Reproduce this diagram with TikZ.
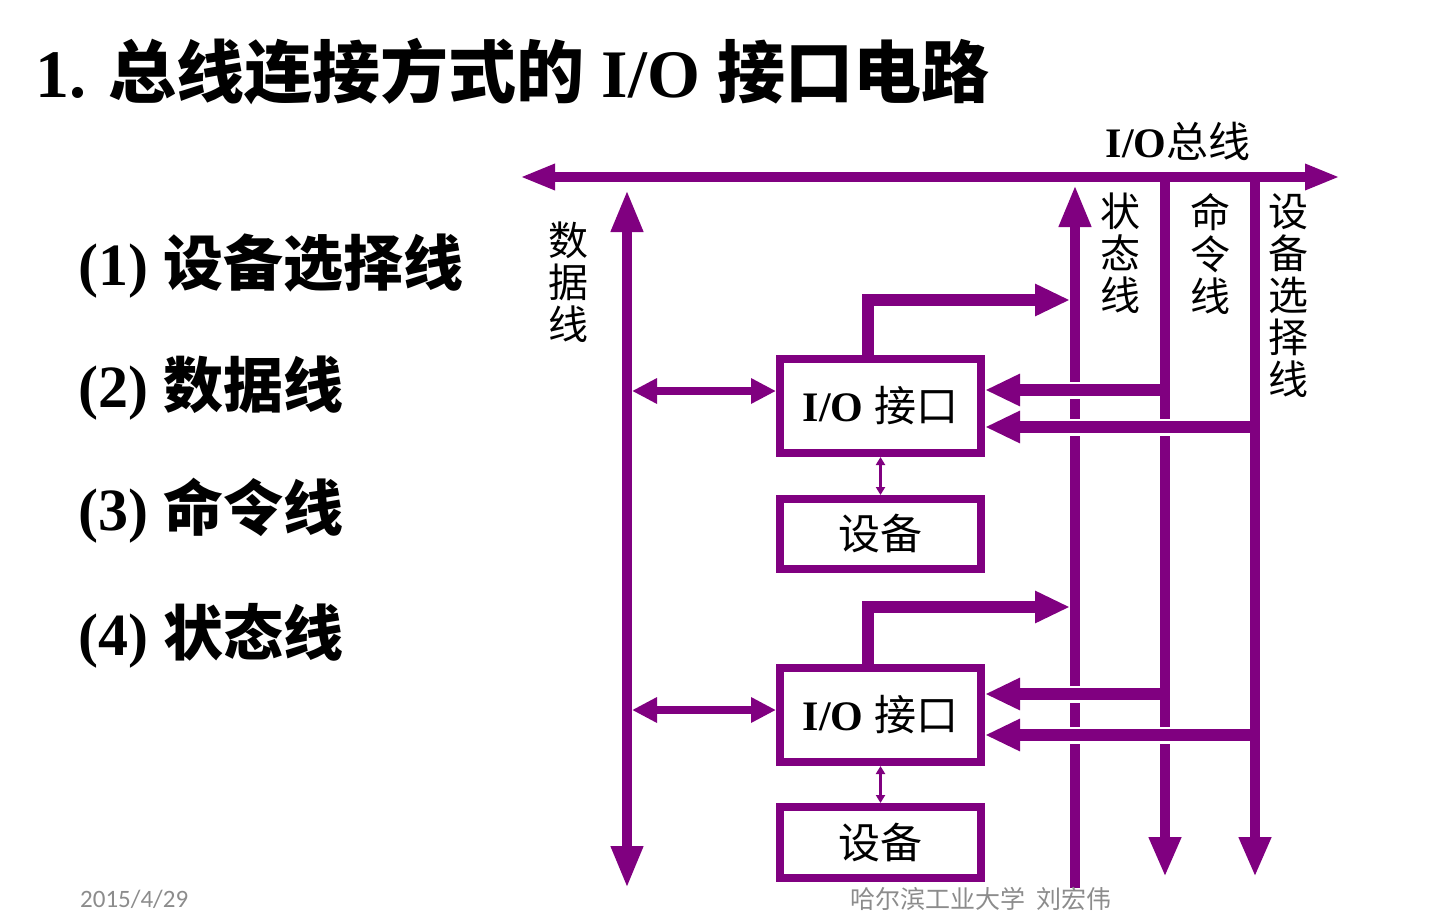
\documentclass[tikz,border=0pt]{standalone}
\usepackage{fontspec}
\setmainfont{Liberation Serif}
\newfontfamily\cjk{Noto Sans CJK SC}
\newfontfamily\footfont{Carlito}
\usetikzlibrary{arrows.meta}
\definecolor{bus}{HTML}{800080}
\definecolor{foot}{HTML}{8C8C8C}
\tikzset{
  busline/.style={draw=bus, line width=10pt},
  hline/.style={draw=bus, line width=12pt},
  gap/.style={draw=white, line width=17pt},
  box/.style={draw=bus, line width=8pt, fill=white, minimum width=201pt, inner sep=0pt},
  vlabel/.style={font=\cjk\fontsize{40}{42}\selectfont, align=center, inner sep=0pt, anchor=north},
  dbl/.style={{Triangle[length=35pt,width=24pt]}-{Triangle[length=35pt,width=24pt]}},
  dbv/.style={{Triangle[length=42pt,width=30pt]}-{Triangle[length=42pt,width=30pt]}},
  upv/.style={-{Triangle[length=42pt,width=30pt]}},
  downv/.style={-{Triangle[length=40pt,width=30pt]}},
  toh/.style={-{Triangle[length=35pt,width=30pt]}},
  dsm/.style={{Triangle[length=25pt,width=24pt]}-{Triangle[length=25pt,width=24pt]}},
  dtiny/.style={{Triangle[length=8pt,width=9pt]}-{Triangle[length=8pt,width=9pt]}},
  item/.style={font=\fontsize{60}{62}\selectfont\bfseries, anchor=base west, inner sep=0pt},
}
\begin{document}
\begin{tikzpicture}[x=1pt,y=-1pt]
\useasboundingbox (0,0) rectangle (1454,918);

% title
\node[anchor=base west, inner sep=0pt, font=\fontsize{68}{70}\selectfont\bfseries] (title) at (35,97)
  {1. {\cjk 总线连接方式的} I/O {\cjk 接口电路}};

% list
\node[item] (l1) at (78,285) {(1) {\cjk 设备选择线}};
\node[item] (l2) at (78,407) {(2) {\cjk 数据线}};
\node[item] (l3) at (78,530) {(3) {\cjk 命令线}};
\node[item] (l4) at (78,655) {(4) {\cjk 状态线}};

% bus coordinates
\coordinate (busL) at (520,177);
\coordinate (busR) at (1340,177);
\coordinate (dT) at (627,190);
\coordinate (dB) at (627,888);
\coordinate (sB) at (1075,888);
\coordinate (sT) at (1075,185);
\coordinate (cT) at (1165,177);
\coordinate (cB) at (1165,877);
\coordinate (eT) at (1255,177);
\coordinate (eB) at (1255,877);

% lines
\draw[busline, dbl] (busL) -- (busR);
\draw[busline, dbv] (dT) -- (dB);
\draw[busline, upv] (sB) -- (sT);
\draw[busline, downv] (cT) -- (cB);
\draw[busline, downv] (eT) -- (eB);

\node[font=\fontsize{42}{44}\selectfont\bfseries, inner sep=0pt] (buslabel) at (1178,141) {I/O{\cjk\mdseries 总线}};

% labels
\node[vlabel] (ldata) at (568,222) {数\\据\\线};
\node[vlabel] (lstat) at (1120,193) {状\\态\\线};
\node[vlabel] (lcmd) at (1210,193) {命\\令\\线};
\node[vlabel] (lsel) at (1288,193) {设\\备\\选\\择\\线};

% boxes
\node[box, minimum height=94pt, font=\fontsize{42}{44}\selectfont\bfseries] (io1) at (880.5,406) {I/O {\cjk\mdseries 接口}};
\node[box, minimum height=70pt, font=\cjk\fontsize{42}{44}\selectfont] (dev1) at (880.5,534) {设备};
\node[box, minimum height=94pt, font=\fontsize{42}{44}\selectfont\bfseries] (io2) at (880.5,715) {I/O {\cjk\mdseries 接口}};
\node[box, minimum height=71pt, font=\cjk\fontsize{42}{44}\selectfont] (dev2) at (880.5,842.5) {设备};

% interface 1 connectors
\coordinate (s1) at (1070,300);
\coordinate (c1) at (1165,390);
\coordinate (e1) at (1255,427);
\draw[gap] (1159.5,390) -- (1020,390);
\draw[gap] (1249.5,427) -- (1020,427);
\draw[hline, toh] ([xshift=-13pt]io1.north) |- (s1);
\draw[hline, toh] (c1) -- (c1 -| io1.east);
\draw[hline, toh] (e1) -- (e1 -| io1.east);
\draw[draw=bus, line width=8pt, dsm] (io1.west |- 0,391) -- (632,391);
\draw[draw=bus, line width=3pt, dtiny] (io1.south) -- (dev1.north);

% interface 2 connectors
\coordinate (s2) at (1070,607);
\coordinate (c2) at (1165,694);
\coordinate (e2) at (1255,735);
\draw[gap] (1159.5,694) -- (1020,694);
\draw[gap] (1249.5,735) -- (1020,735);
\draw[hline, toh] ([xshift=-13pt]io2.north) |- (s2);
\draw[hline, toh] (c2) -- (c2 -| io2.east);
\draw[hline, toh] (e2) -- (e2 -| io2.east);
\draw[draw=bus, line width=8pt, dsm] (io2.west |- 0,710) -- (632,710);
\draw[draw=bus, line width=3pt, dtiny] (io2.south) -- (dev2.north);

% footer
\node[font=\footfont\fontsize{25}{27}\selectfont, text=foot, anchor=west, inner sep=0pt] (date) at (80,899) {2015/4/29};
\node[font=\cjk\fontsize{25}{27}\selectfont, text=foot, anchor=west, inner sep=0pt] (author) at (850,899) {哈尔滨工业大学\ \ 刘宏伟};
\end{tikzpicture}
\end{document}
